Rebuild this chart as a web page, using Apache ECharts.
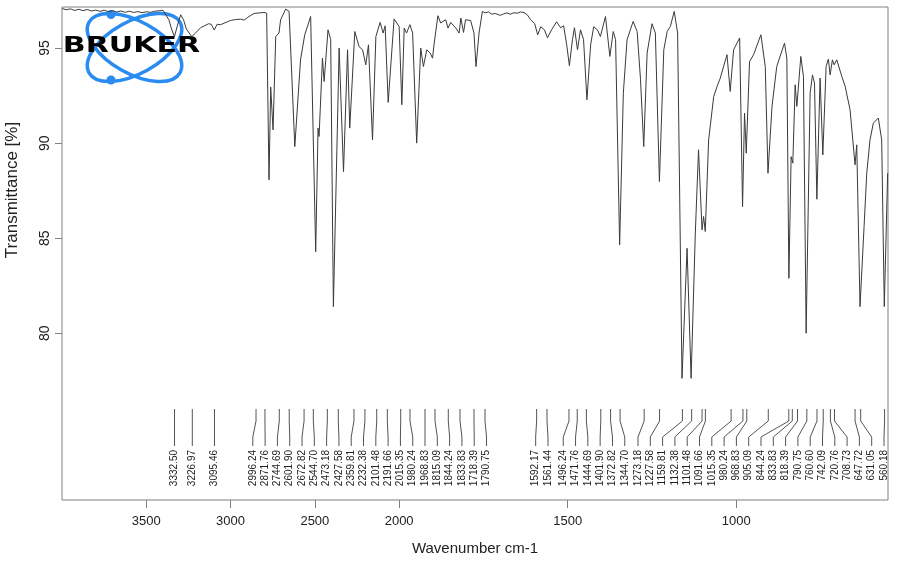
<!DOCTYPE html>
<html><head><meta charset="utf-8">
<script src="https://cdn.jsdelivr.net/npm/echarts@6/dist/echarts.min.js"></script>
<style>html,body{margin:0;padding:0;background:#fff}#c{width:904px;height:566px}</style>
</head><body><div id="c"></div>
<script>
// ---------- data ----------
const spectrumWavenumber = [
3999,3975,3950,3925,3900,3875,3850,3825,3800,3775,3750,3725,3700,3675,3650,3625,3600,3575,3550,3525,3500,3475,3450,3425,3400,
3366,3350,3333,3315,3296,3279,3262,3230,3207,3178,3130,3115,3097,3080,3059,3020,3000,2970,2940,2920,2900,2880,2860,2830,2802,2786,
2772,2762,2748,2732,2713,2703,2673,2653,2619,2585,2560,2525,2514,2495,2481,2475,2455,2445,2422,2406,2390,2356,2330,2306,2293,2263,
2238,2217,2198,2182,2158,2138,2113,2095,2083,2065,2030,2000,1992,1985,1978,1968,1960,1948,1936,1928,1918,1908,1901,1896,1885,1877,
1862,1855,1847,1832,1822,1817,1809,1803,1788,1778,1772,1763,1753,1745,1735,1725,1715,1700,1690,1680,1670,1660,1650,1640,1630,1620,
1610,1598,1589,1580,1569,1560,1548,1533,1521,1512,1503,1495,1486,1480,1471,1462,1453,1443,1432,1423,1412,1403,1388,1375,1365,1358,
1346,1335,1324,1306,1294,1284,1274.5,1264.5,1250,1240,1228,1215,1205,1195.5,1184,1174,1161,1146,1134,1121.5,1112,1101.6,1097,1092,
1082,1067,1057,1047.5,1027.6,1018,1008,990,981.4,975.5,970.4,960.7,948.8,927,914,906,894,880,857,850,844,837.3,832.3,825.4,820.4,
808.6,800.8,792.8,781,774,768,761,751.4,743.3,733.6,726.8,721.7,714.9,709.9,701.9,687,677,662.5,647.7,642.7,633,621,613,603.4,593.5,
578.7,568.7,561,551];
const spectrumTransmittance = [
97.08,97.02,97.06,96.98,97.04,96.97,97.03,96.95,97.00,96.93,96.99,96.92,96.97,96.90,96.95,96.88,96.94,96.87,96.92,96.86,96.91,96.88,96.94,96.96,96.98,
96.49,96.00,95.60,96.20,96.75,96.49,96.00,95.60,95.80,96.07,96.28,96.25,95.95,96.25,96.23,96.38,96.45,96.50,96.52,96.47,96.60,96.72,96.82,96.85,96.87,96.84,
88.07,92.95,90.70,95.61,95.79,96.49,97.05,96.93,89.82,94.38,95.70,96.66,96.58,84.29,90.79,90.35,94.47,93.24,95.96,95.44,81.40,95.00,88.50,94.91,90.79,95.87,
95.08,94.91,94.12,95.17,90.17,95.61,96.35,95.79,96.17,92.14,96.53,96.14,92.02,96.05,95.79,96.23,95.79,90.00,95.00,94.03,94.91,94.74,94.47,95.26,96.70,96.32,
96.49,96.05,96.35,96.05,95.79,96.58,95.82,96.49,96.45,95.79,94.03,95.79,96.93,96.85,96.90,96.78,96.82,96.72,96.80,96.85,96.78,96.86,96.83,96.90,96.87,96.75,
96.49,96.28,95.70,96.12,95.96,95.54,95.96,96.38,96.07,96.17,95.17,94.07,95.44,96.07,94.91,95.96,95.44,92.28,95.17,96.12,95.96,95.61,96.66,94.56,95.87,95.44,
84.65,92.63,95.44,96.40,95.87,93.33,89.82,94.74,96.28,95.79,87.98,94.91,95.87,96.14,96.93,95.79,77.63,84.47,77.63,85.27,89.65,85.44,86.14,85.35,
90.17,92.45,92.98,93.42,94.65,92.72,94.91,95.53,86.66,91.58,89.47,94.29,94.65,95.70,94.03,88.42,91.93,94.03,95.26,94.47,82.89,89.29,88.95,93.07,91.93,
94.56,93.51,80.00,92.63,93.59,93.16,87.05,93.42,89.38,94.03,94.42,93.59,94.38,94.12,94.38,93.51,92.98,91.75,88.86,89.91,81.40,85.61,88.42,90.17,91.05,
91.32,90.17,81.40,88.42];

// peak label values (text) in the order they appear
const peakLabelValues = [3332.50,3226.97,3095.46,2996.24,2871.76,2744.69,2601.90,2672.82,2544.70,2473.18,2427.58,2359.81,2232.38,
2101.48,2191.66,2015.35,1980.24,1968.83,1815.09,1844.24,1833.83,1718.39,1790.75,1592.17,1561.44,1496.24,1471.76,1444.69,1401.90,
1372.82,1344.70,1273.18,1227.58,1159.81,1132.38,1101.48,1091.66,1015.35,980.24,968.83,905.09,844.24,833.83,818.39,790.75,760.60,
742.09,720.76,708.73,647.72,631.05,560.18];
// wavenumber where each label's marker line starts
const peakMarkerWavenumbers = [3332.50,3226.97,3095.46,2849,2796,2711,2652,2564,2509,2426,2361,2268,2203,
2133,2070,1995.4,1967.8,1923.3,1893.6,1854.2,1819.5,1778,1745.3,1592.17,1561.44,1496.24,1471.76,1444.69,1401.90,
1372.82,1344.70,1273.18,1227.58,1159.81,1132.38,1101.48,1091.66,1015.35,980.24,968.83,905.09,844.24,833.83,818.39,790.75,760.60,
742.09,720.76,708.73,647.72,631.05,560.18];

const xTickValues = [3500, 3000, 2500, 2000, 1500, 1000];
const yTickValues = [80, 85, 90, 95];
const X_MIN = 550, X_MAX = 4000;
const Y_MIN = 71.23, Y_MAX = 97.16;

// ---------- axis scale (compressed above 2000 cm-1) ----------
const BREAK = 2000, UPPER_FACTOR = 0.5;
const u = w => w <= BREAK ? w : BREAK + (w - BREAK) * UPPER_FACTOR;
const uInv = v => v <= BREAK ? v : BREAK + (v - BREAK) / UPPER_FACTOR;

const FONT = '"Liberation Sans", Arial, Helvetica, sans-serif';
const LABEL_GAP = 12.3;

function spreadPositions(targets, gap, lo, hi) {
  const clamp = c => Math.min(Math.max(c.sum / c.count, lo), hi - (c.count - 1) * gap);
  const clusters = [];
  targets.forEach(t => {
    clusters.push({ count: 1, sum: t });
    while (clusters.length > 1) {
      const c = clusters[clusters.length - 1], p = clusters[clusters.length - 2];
      if (clamp(p) + p.count * gap > clamp(c)) {
        p.sum += c.sum - c.count * p.count * gap;
        p.count += c.count;
        clusters.pop();
      } else break;
    }
  });
  const out = [];
  clusters.forEach(c => { const b = clamp(c); for (let k = 0; k < c.count; k++) out.push(b + k * gap); });
  return out;
}

function renderPeaks(params, api) {
  const cs = params.coordSys;
  const bottom = cs.y + cs.height;
  const tx = peakMarkerWavenumbers.map(w => api.coord([u(w), 90])[0]);
  const lx = spreadPositions(tx, LABEL_GAP, cs.x + 4, cs.x + cs.width - 4);
  const y0 = bottom - 91, y1 = bottom - 79, y2 = bottom - 63, y3 = bottom - 54, yt = bottom - 50;
  const children = [];
  peakLabelValues.forEach((w, i) => {
    children.push({ type: 'polyline', shape: { points: [[tx[i], y0], [tx[i], y1], [lx[i], y2], [lx[i], y3]] },
      style: { stroke: '#555', lineWidth: 1, fill: null } });
    children.push({ type: 'text', x: lx[i], y: yt, rotation: Math.PI / 2,
      style: { text: w.toFixed(2), align: 'right', verticalAlign: 'middle', fontSize: 10, fontFamily: FONT, fill: '#222' } });
  });
  return { type: 'group', children };
}

const chart = echarts.init(document.getElementById('c'));
chart.setOption({
  animation: false,
  backgroundColor: '#fff',
  grid: { left: 62, right: 16, top: 7, bottom: 66, show: true, borderColor: '#808080', borderWidth: 1 },
  xAxis: {
    type: 'value', inverse: true, min: u(X_MIN), max: u(X_MAX),
    axisLine: { show: false }, splitLine: { show: false },
    axisTick: { show: true, customValues: xTickValues.map(u), length: 8, lineStyle: { color: '#808080' } },
    axisLabel: { customValues: xTickValues.map(u), formatter: v => String(Math.round(uInv(v))), margin: 15, fontSize: 13, color: '#222', fontFamily: FONT },
    name: 'Wavenumber cm-1', nameLocation: 'middle', nameGap: 41,
    nameTextStyle: { fontSize: 15, color: '#222', fontFamily: FONT }
  },
  yAxis: {
    type: 'value', min: Y_MIN, max: Y_MAX,
    axisLine: { show: false }, splitLine: { show: false },
    axisTick: { show: true, customValues: yTickValues, length: 7, lineStyle: { color: '#808080' } },
    axisLabel: { customValues: yTickValues, rotate: 90, margin: 10, fontSize: 14, color: '#222', fontFamily: FONT }
  },
  graphic: [
    { type: 'text', x: 12, y: 190, rotation: Math.PI / 2,
      style: { text: 'Transmittance [%]', align: 'center', verticalAlign: 'middle', fontSize: 17, fontFamily: FONT, fill: '#222' } },
    { type: 'group', z: 100, children: [
      { type: 'ellipse', x: 134.5, y: 47.5, rotation: -0.508, shape: { cx: 0, cy: 0, rx: 52, ry: 26 }, style: { stroke: '#2a8cf0', lineWidth: 3.5, fill: null } },
      { type: 'ellipse', x: 134.5, y: 47.5, rotation: 0.508, shape: { cx: 0, cy: 0, rx: 52, ry: 26 }, style: { stroke: '#2a8cf0', lineWidth: 3.5, fill: null } },
      { type: 'circle', shape: { cx: 111, cy: 14.5, r: 4.5 }, style: { fill: '#2a8cf0' } },
      { type: 'circle', shape: { cx: 111, cy: 80, r: 4.5 }, style: { fill: '#2a8cf0' } },
      { type: 'text', x: 131.5, y: 47, scaleX: 1.43,
        style: { text: 'BRUKER', align: 'center', verticalAlign: 'middle', font: 'bold 21px "DejaVu Sans"', fill: '#000' } }
    ] }
  ],
  series: [
    { type: 'line', data: spectrumWavenumber.map((w, i) => [u(w), spectrumTransmittance[i]]),
      symbol: 'none', lineStyle: { color: '#3a3a3a', width: 1 }, silent: true, z: 3 },
    { type: 'custom', data: [[u(1000), 80]], renderItem: renderPeaks, silent: true, z: 2 }
  ]
});
</script></body></html>
